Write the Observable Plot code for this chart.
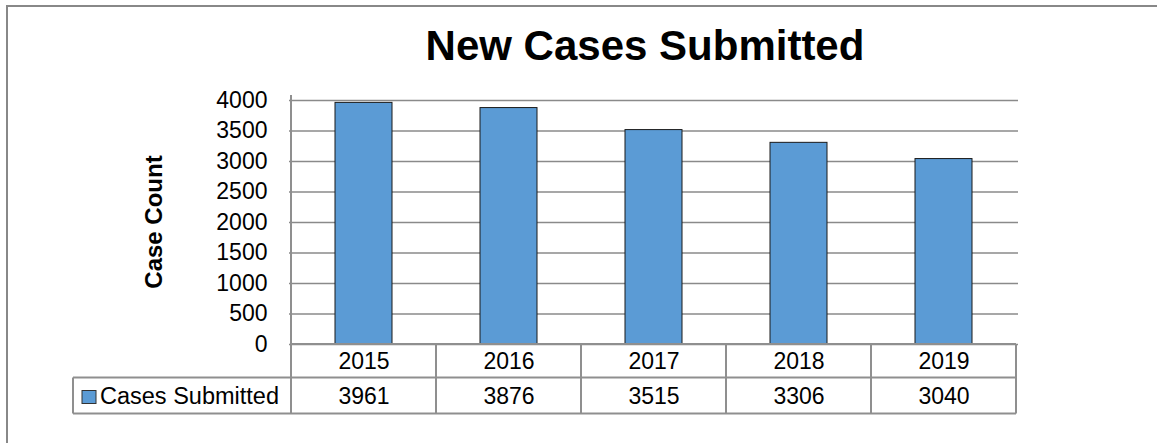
<!DOCTYPE html>
<html><head><meta charset="utf-8">
<script src="https://cdn.jsdelivr.net/npm/d3@7"></script>
<script src="https://cdn.jsdelivr.net/npm/@observablehq/plot@0.6"></script>
<style>body{margin:0;background:#fff} svg{display:block}</style>
</head><body><div id="chart"></div>
<script>
const years = ["2015", "2016", "2017", "2018", "2019"];
const casesSubmitted = [3961, 3876, 3515, 3306, 3040];
const yTicks = [0, 500, 1000, 1500, 2000, 2500, 3000, 3500, 4000];
const title = "New Cases Submitted";
const yLabel = "Case Count";
const seriesName = "Cases Submitted";

const data = years.map((year, i) => ({year, value: casesSubmitted[i]}));
const FONT = "'Liberation Sans', Arial, sans-serif";
const BAR = "#5B9BD5";
const GRID = "#8a8a8a";

const plot = Plot.plot({
  width: 1157, height: 443,
  marginLeft: 289, marginRight: 139, marginTop: 100, marginBottom: 99,
  style: {fontFamily: FONT, fontSize: "23px", background: "#fff", color: "#000", overflow: "visible"},
  x: {domain: years, padding: 0, label: null},
  y: {domain: [0, 4000], label: null},
  marks: [
    Plot.gridY(yTicks, {stroke: GRID, strokeOpacity: 1, strokeWidth: 1.4}),
    Plot.axisY(yTicks, {tickSize: 0, tickPadding: 22, label: null, fontSize: 23, tickFormat: d => String(d)}),
    Plot.axisX({tickSize: 0, tickPadding: 8, label: null, fontSize: 23}),
    Plot.barY(data, {x: "year", y: "value", fill: BAR, stroke: "#1a1a1a", strokeWidth: 1, insetLeft: 44, insetRight: 44}),
    Plot.text(data, {x: "year", text: d => String(d.value), frameAnchor: "bottom", lineAnchor: "bottom", dy: 59, fontSize: 23, fill: "#000"})
  ]
});
document.getElementById("chart").appendChild(plot);

const svg = d3.select(plot);
const xs = plot.scale("x"), ys = plot.scale("y");
const bw = xs.bandwidth;
const left = xs.apply(years[0]);
const right = xs.apply(years[years.length - 1]) + bw;
const y0 = ys.apply(0);
const row1 = y0 + 33.5, row2 = y0 + 69.5;
const legendLeft = 73;
const g = svg.append("g").attr("stroke", "#8f8f8f").attr("stroke-width", 2).attr("fill", "none");
function seg(x1, y1, x2, y2) {
  g.append("path").attr("d", `M${x1},${y1}L${x2},${y2}`);
}
seg(left, ys.apply(4000) - 5, left, row2);
seg(left, y0, right, y0);
seg(legendLeft, row1, right, row1);
seg(legendLeft, row2, right, row2);
seg(legendLeft, row1, legendLeft, row2);
years.forEach(yr => {
  const xb = xs.apply(yr) + bw;
  seg(xb, y0, xb, row2);
});
// legend key
svg.append("rect").attr("x", 82).attr("y", row1 + 13).attr("width", 14).attr("height", 13)
  .attr("fill", BAR).attr("stroke", "#333").attr("stroke-width", 1);
svg.append("text").attr("x", 100).attr("y", row2 - 10).attr("text-anchor", "start").attr("font-size", 23.5).attr("fill", "#000")
  .attr("font-family", FONT).text(seriesName);
// title
svg.append("text").attr("x", 645).attr("y", 60).attr("text-anchor", "middle")
  .attr("font-size", 42).attr("font-weight", "bold").attr("font-family", FONT).attr("fill", "#000").text(title);
// y label
svg.append("text").attr("transform", `translate(162,${(ys.apply(0) + ys.apply(4000)) / 2}) rotate(-90)`)
  .attr("text-anchor", "middle").attr("font-size", 24).attr("font-weight", "bold")
  .attr("font-family", FONT).attr("fill", "#000").text(yLabel);
// outer border
svg.append("path").attr("d", "M7,443V6H1157").attr("fill", "none").attr("stroke", "#888").attr("stroke-width", 2);
</script>
</body></html>
